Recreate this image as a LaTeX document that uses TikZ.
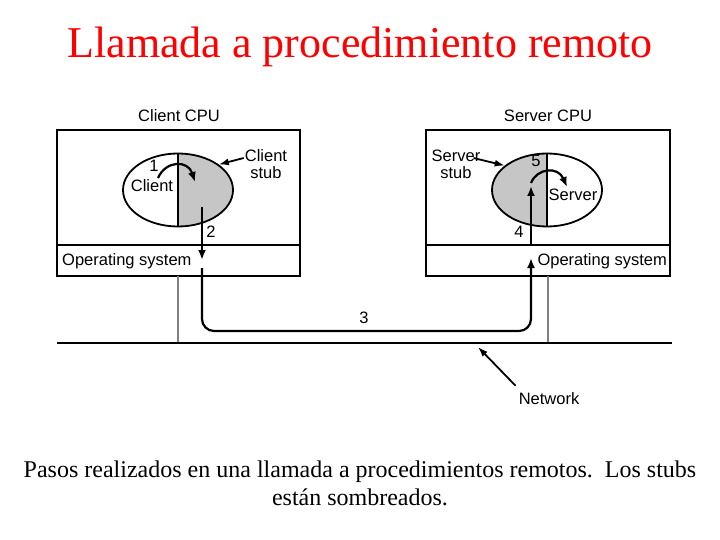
\documentclass[tikz,border=0pt]{standalone}
\usepackage{fontspec}
\setmainfont{Liberation Serif}
\setsansfont{Liberation Sans}
\usetikzlibrary{arrows.meta,shapes.geometric,positioning,calc}

\begin{document}
\begin{tikzpicture}[x=1pt,y=-1pt,
    lbl/.style={font=\sffamily\fontsize{16.5}{17}\selectfont,inner sep=1pt},
    frame/.style={line width=1.8pt},
    flow/.style={line width=2.2pt,-{Latex[length=10pt,width=8pt]}},
    pointer/.style={line width=1.8pt,-{Latex[length=10pt,width=7pt]}},
    half/.style={draw,line width=1.8pt,ellipse,minimum width=110pt,minimum height=73pt,inner sep=0pt}]
\def\shade{gray!45}
\useasboundingbox (0,0) rectangle (720,540);

% title
\node[text=red,font=\fontsize{44}{48}\selectfont] (title) at (360,47) {Llamada a procedimiento remoto};

% the two machines
\draw[frame] (57,130) rectangle (300,276);
\draw[frame] (57,245) -- (300,245);
\draw[frame] (426,130) rectangle (670,276);
\draw[frame] (426,245) -- (670,245);
\node[lbl] (ccpu) at (179,116) {Client CPU};
\node[lbl] (scpu) at (548,116) {Server CPU};
\node[lbl,anchor=west] (cos) at (61,261) {Operating system};
\node[lbl,anchor=east] (sos) at (668,261) {Operating system};

% network
\draw[gray,line width=1.4pt] (178,276) -- (178,343);
\draw[gray,line width=1.4pt] (548,276) -- (548,343);
\draw[frame] (57,343) -- (672,343);
\node[lbl] (net) at (549,399) {Network};
\coordinate (netpt) at (478,347);
\draw[pointer] (net.north west) ++(-2,-6) -- (netpt);

% client side
\begin{scope}
  \clip (178,150) rectangle (240,230);
  \fill[\shade] (178,190) ellipse [x radius=55pt,y radius=36.5pt];
\end{scope}
\node[half] (cl) at (178,190) {};
\draw[frame] (cl.north) -- (cl.south);
\node[lbl] (client) at (152,186) {Client};
\node[lbl] (one) at (154,166) {1};
\node[lbl,align=center] (cstub) at (266,164) {Client\\stub};
\draw[pointer] (cstub.west) ++(0,-6) -- (cl.32);
\draw[flow] (158,178) .. controls (166,160) and (188,160) .. (195,182);

% server side
\begin{scope}
  \clip (492,150) rectangle (547,230);
  \fill[\shade] (547,190) ellipse [x radius=55pt,y radius=36.5pt];
\end{scope}
\node[half] (sv) at (547,190) {};
\draw[frame] (sv.north) -- (sv.south);
\node[lbl] (server) at (573,195) {Server};
\node[lbl] (five) at (536,161) {5};
\node[lbl,align=center] (sstub) at (456,164) {Server\\stub};
\draw[pointer] (sstub.east) ++(-8,-6) -- (sv.150);
\draw[flow] (531,183) .. controls (537,168) and (558,166) .. (567,187);

% message path
\coordinate (down) at (202,207);
\coordinate (up) at (531,258);
\draw[flow] (down) -- (202,260);
\draw[flow,rounded corners=12pt] (202,268) -- (202,331) -- (531,331) -- (up);
\draw[flow] (531,245) -- (531,186);
\node[lbl] (two) at (211,232) {2};
\node[lbl] (three) at (364,318) {3};
\node[lbl] (four) at (519,232) {4};

% caption
\node[align=center,font=\fontsize{24}{28}\selectfont] (caption) at (360,483)
  {Pasos realizados en una llamada a procedimientos remotos.\ \ Los stubs\\están sombreados.};
\end{tikzpicture}
\end{document}
